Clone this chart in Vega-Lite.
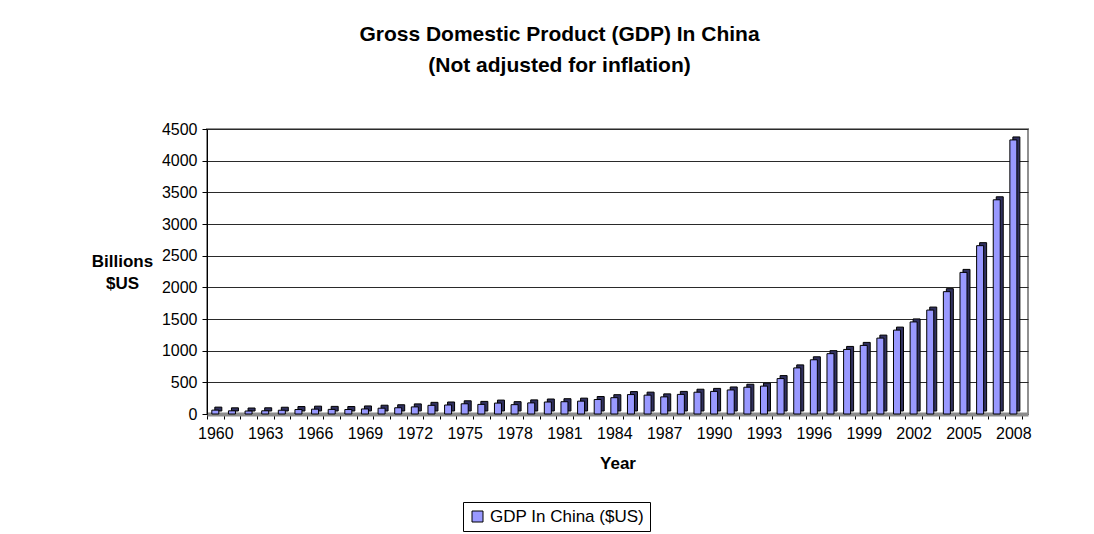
{
  "$schema": "https://vega.github.io/schema/vega-lite/v6.json",
  "autosize": "none",
  "width": 821,
  "height": 285,
  "padding": {"left": 207, "top": 129, "right": 66, "bottom": 120},
  "background": "white",
  "title": {
    "text": ["Gross Domestic Product (GDP) In China", "(Not adjusted for inflation)"],
    "anchor": "middle",
    "frame": "group",
    "dx": -58,
    "offset": 45,
    "fontSize": 21,
    "fontWeight": "bold",
    "font": "Liberation Sans",
    "lineHeight": 31,
    "color": "#000"
  },
  "config": {
    "font": "Liberation Sans",
    "view": {"stroke": "#909090", "strokeWidth": 2}
  },
  "data": {
    "values": [
      {"year": 1960, "gdp": 61.4}, {"year": 1961, "gdp": 50.1}, {"year": 1962, "gdp": 47.2},
      {"year": 1963, "gdp": 50.7}, {"year": 1964, "gdp": 59.7}, {"year": 1965, "gdp": 70.4},
      {"year": 1966, "gdp": 76.7}, {"year": 1967, "gdp": 72.9}, {"year": 1968, "gdp": 70.8},
      {"year": 1969, "gdp": 79.7}, {"year": 1970, "gdp": 91.5}, {"year": 1971, "gdp": 98.6},
      {"year": 1972, "gdp": 112.2}, {"year": 1973, "gdp": 136.8}, {"year": 1974, "gdp": 142.3},
      {"year": 1975, "gdp": 161.2}, {"year": 1976, "gdp": 151.6}, {"year": 1977, "gdp": 172.3},
      {"year": 1978, "gdp": 147.3}, {"year": 1979, "gdp": 175.6}, {"year": 1980, "gdp": 189.4},
      {"year": 1981, "gdp": 194.1}, {"year": 1982, "gdp": 203.2}, {"year": 1983, "gdp": 228.5},
      {"year": 1984, "gdp": 257.4}, {"year": 1985, "gdp": 306.7}, {"year": 1986, "gdp": 297.8},
      {"year": 1987, "gdp": 270.4}, {"year": 1988, "gdp": 309.5}, {"year": 1989, "gdp": 344.0},
      {"year": 1990, "gdp": 356.9}, {"year": 1991, "gdp": 379.5}, {"year": 1992, "gdp": 422.7},
      {"year": 1993, "gdp": 440.5}, {"year": 1994, "gdp": 559.2}, {"year": 1995, "gdp": 728.0},
      {"year": 1996, "gdp": 856.1}, {"year": 1997, "gdp": 952.6}, {"year": 1998, "gdp": 1019.5},
      {"year": 1999, "gdp": 1083.3}, {"year": 2000, "gdp": 1198.5}, {"year": 2001, "gdp": 1324.8},
      {"year": 2002, "gdp": 1453.8}, {"year": 2003, "gdp": 1640.9}, {"year": 2004, "gdp": 1931.6},
      {"year": 2005, "gdp": 2235.9}, {"year": 2006, "gdp": 2657.9}, {"year": 2007, "gdp": 3382.4},
      {"year": 2008, "gdp": 4327.4}
    ]
  },
  "encoding": {
    "x": {
      "field": "year",
      "type": "ordinal",
      "sort": "ascending",
      "scale": {"paddingInner": 0, "paddingOuter": 0.19, "align": 0},
      "axis": {
        "title": "Year",
        "titleFontSize": 17,
        "titleFontWeight": "bold",
        "titleColor": "#000",
        "titlePadding": 14,
        "labelAngle": 0,
        "labelFontSize": 16,
        "labelColor": "#000",
        "labelOverlap": false,
        "labelPadding": 6,
        "labelExpr": "(datum.value - 1960) % 3 == 0 ? datum.label : ''",
        "tickBand": "extent",
        "tickSize": 5,
        "tickColor": "#000",
        "domainColor": "#8c8c8c",
        "domainWidth": 4,
        "grid": false
      }
    },
    "y": {
      "field": "gdp",
      "type": "quantitative",
      "scale": {"domain": [0, 4500], "nice": false},
      "axis": {
        "values": [0, 500, 1000, 1500, 2000, 2500, 3000, 3500, 4000, 4500],
        "format": "d",
        "title": ["Billions", "$US"],
        "titleAngle": 0,
        "titleAlign": "center",
        "titleBaseline": "alphabetic",
        "titleX": -85,
        "titleY": 137,
        "titleFontSize": 17,
        "titleFontWeight": "bold",
        "titleColor": "#000",
        "titleLineHeight": 22,
        "labelFontSize": 16,
        "labelColor": "#000",
        "labelPadding": 5,
        "tickSize": 5,
        "tickColor": "#000",
        "domainColor": "#000",
        "gridColor": "#2a2a2a",
        "gridWidth": 1
      }
    }
  },
  "layer": [
    {
      "mark": {"type": "bar", "width": 7, "xOffset": 3, "yOffset": -3, "fill": "#30305e", "stroke": "#000", "strokeWidth": 1}
    },
    {
      "mark": {"type": "bar", "width": 7, "stroke": "#000", "strokeWidth": 1},
      "encoding": {
        "color": {
          "datum": "GDP In China ($US)",
          "type": "nominal",
          "scale": {"range": ["#9999ff"]},
          "legend": {
            "title": null,
            "orient": "none",
            "legendX": 256,
            "legendY": 373,
            "direction": "horizontal",
            "padding": 6,
            "strokeColor": "#000",
            "fillColor": "#fff",
            "symbolType": "square",
            "symbolSize": 121,
            "symbolStrokeColor": "#000",
            "symbolStrokeWidth": 1,
            "symbolOpacity": 1,
            "labelFontSize": 17,
            "labelColor": "#000",
            "labelLimit": 300
          }
        }
      }
    }
  ]
}
